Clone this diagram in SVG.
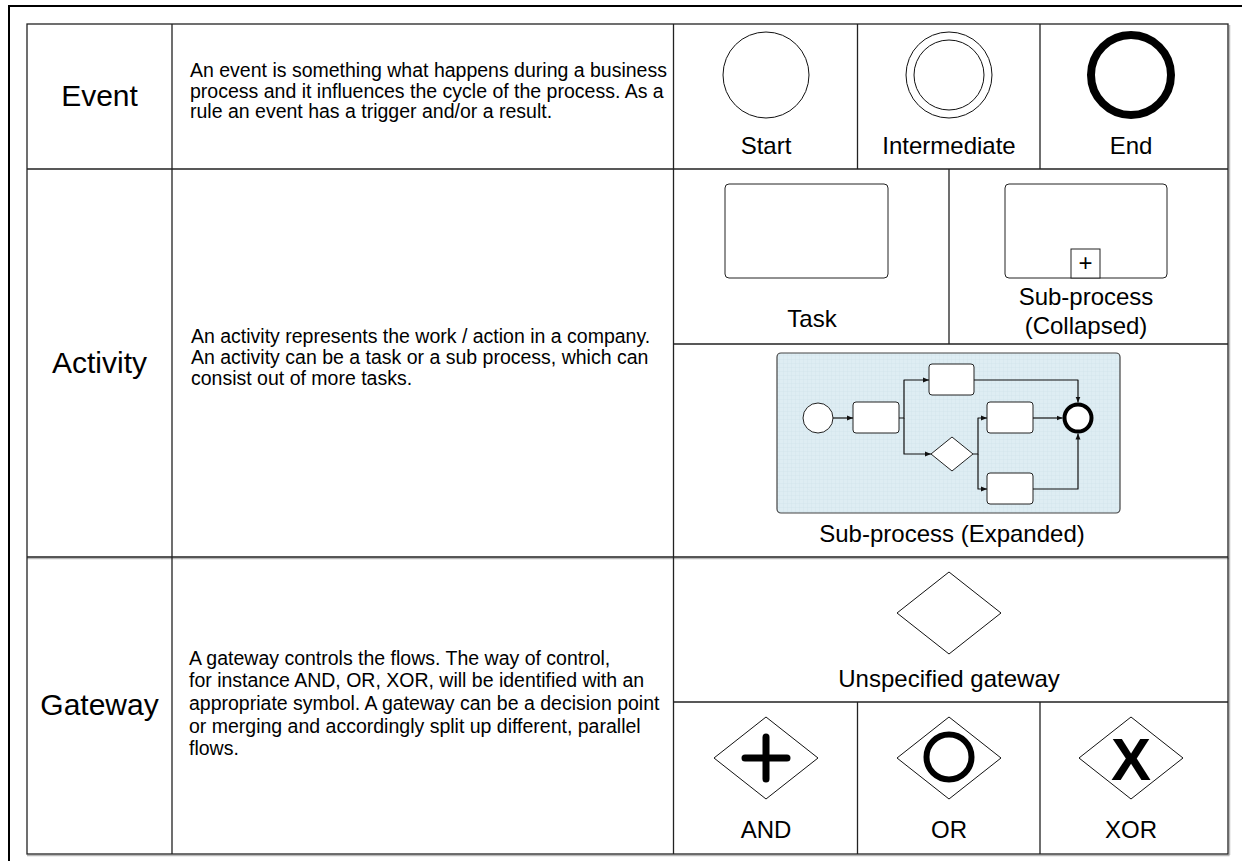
<svg xmlns="http://www.w3.org/2000/svg" width="1242" height="861" viewBox="0 0 1242 861">
<style>
 text{font-family:"Liberation Sans",Arial,sans-serif;fill:#000}
 .hd{font-size:30px;text-anchor:middle}
 .ds{font-size:19.5px}
 .lb{font-size:24px;text-anchor:middle}
 .ln{stroke:#222;stroke-width:1.3;fill:none}
 .sh{stroke:#b8b8b8;stroke-width:1.5;fill:none}
 .thin{fill:#fff;stroke:#111;stroke-width:1}
 .mini{fill:#fff;stroke:#222;stroke-width:1}
 .fl{fill:none;stroke:#111;stroke-width:1.2;stroke-linejoin:round}
</style>
<defs>
 <pattern id="grid" width="4" height="4" patternUnits="userSpaceOnUse">
  <rect width="4" height="4" fill="#deedf3"/>
  <path d="M4 0V4M0 4H4" stroke="#cde0e8" stroke-width="0.6"/>
 </pattern>
 <marker id="ar" markerWidth="6" markerHeight="6" refX="6" refY="3" orient="auto" markerUnits="userSpaceOnUse">
  <path d="M0,0.5 L6,3 L0,5.5z" fill="#111"/>
 </marker>
</defs>
<rect width="1242" height="861" fill="#fff"/>
<rect x="9" y="6" width="1300" height="900" fill="none" stroke="#000" stroke-width="2"/>

<g id="table">
 <path class="sh" d="M27,558.5H1229.5M1229.5,25V855M27,855.5H1229.5"/>
 <rect class="ln" x="27" y="24" width="1201" height="830" stroke-width="1.6"/>
 <path class="ln" d="M172,24V854M673.5,24V854M27,169H1228M27,557H1228"/>
 <path class="ln" d="M857.5,24V169M1040,24V169"/>
 <path class="ln" d="M673.5,344H1228M949,169V344"/>
 <path class="ln" d="M673.5,702H1228M857.5,702V854M1040,702V854"/>
</g>

<g id="event">
 <text class="hd" x="99.5" y="106">Event</text>
 <text class="ds" x="190" y="77">An event is something what happens during a business</text>
 <text class="ds" x="190" y="97.5">process and it influences the cycle of the process. As a</text>
 <text class="ds" x="190" y="118">rule an event has a trigger and/or a result.</text>
 <g id="ev-start"><circle class="thin" cx="766" cy="75" r="43"/><text class="lb" x="766" y="154">Start</text></g>
 <g id="ev-intermediate"><circle class="thin" cx="949" cy="75" r="43"/><circle class="thin" cx="949" cy="75" r="35"/><text class="lb" x="949" y="154">Intermediate</text></g>
 <g id="ev-end"><circle cx="1131" cy="75" r="40" fill="#fff" stroke="#000" stroke-width="8"/><text class="lb" x="1131" y="154">End</text></g>
</g>

<g id="activity">
 <text class="hd" x="99.5" y="373">Activity</text>
 <text class="ds" x="191" y="343" font-size="20">An activity represents the work / action in a company.</text>
 <text class="ds" x="191" y="364" font-size="20">An activity can be a task or a sub process, which can</text>
 <text class="ds" x="191" y="385" font-size="20">consist out of more tasks.</text>
 <g id="act-task"><rect class="mini" x="725" y="184" width="163" height="94" rx="4"/><text class="lb" x="812" y="327">Task</text></g>
 <g id="act-collapsed">
  <rect class="mini" x="1005" y="184" width="162" height="94" rx="4"/>
  <rect class="mini" x="1071" y="249" width="29" height="29"/>
  <text class="lb" x="1085.5" y="271">+</text>
  <text class="lb" x="1086" y="305">Sub-process</text>
  <text class="lb" x="1086" y="334">(Collapsed)</text>
 </g>
 <g id="act-expanded">
  <rect x="777" y="353" width="343" height="160" rx="4" fill="url(#grid)" stroke="#444" stroke-width="1.2"/>
  <g id="mini-start"><circle class="mini" cx="818" cy="418" r="15"/></g>
  <g id="mini-task1"><rect class="mini" x="853" y="402" width="46" height="31" rx="3"/></g>
  <g id="mini-task2"><rect class="mini" x="929" y="364" width="45" height="31" rx="3"/></g>
  <g id="mini-task3"><rect class="mini" x="987" y="402" width="46" height="31" rx="3"/></g>
  <g id="mini-task4"><rect class="mini" x="987" y="473" width="46" height="31" rx="3"/></g>
  <g id="mini-gateway"><polygon class="mini" points="952,437 973,454 952,471 931,454"/></g>
  <g id="mini-end"><circle cx="1078" cy="418" r="13.5" fill="#fff" stroke="#000" stroke-width="4"/></g>
  <g id="connectors">
   <path class="fl" marker-end="url(#ar)" d="M833,418H853"/>
   <path class="fl" marker-end="url(#ar)" d="M899,418H904V380H929"/>
   <path class="fl" marker-end="url(#ar)" d="M904,418V454H931"/>
   <path class="fl" marker-end="url(#ar)" d="M974,380H1078V402.5"/>
   <path class="fl" marker-end="url(#ar)" d="M973,454H978V418H987"/>
   <path class="fl" marker-end="url(#ar)" d="M978,454V489H987"/>
   <path class="fl" marker-end="url(#ar)" d="M1033,418H1062.5"/>
   <path class="fl" marker-end="url(#ar)" d="M1033,489H1078V433.5"/>
  </g>
  <text class="lb" x="952" y="542">Sub-process (Expanded)</text>
 </g>
</g>

<g id="gateway">
 <text class="hd" x="99.5" y="715">Gateway</text>
 <text class="ds" x="189" y="665" font-size="19.2">A gateway controls the flows. The way of control,</text>
 <text class="ds" x="189" y="687" font-size="19.2">for instance AND, OR, XOR, will be identified with an</text>
 <text class="ds" x="189" y="710" font-size="19.2">appropriate symbol. A gateway can be a decision point</text>
 <text class="ds" x="189" y="733" font-size="19.2">or merging and accordingly split up different, parallel</text>
 <text class="ds" x="189" y="755" font-size="19.2">flows.</text>
 <g id="gw-unspecified"><polygon class="thin" points="949,572 1001,613 949,654 897,613"/><text class="lb" x="949" y="687">Unspecified gateway</text></g>
 <g id="gw-and">
  <polygon class="thin" points="766,717 818,758 766,799 714,758"/>
  <path d="M766,737V779M745,758H787" stroke="#000" stroke-width="7" stroke-linecap="round"/>
  <text class="lb" x="766" y="838">AND</text>
 </g>
 <g id="gw-or">
  <polygon class="thin" points="949,717 1001,758 949,799 897,758"/>
  <circle cx="949" cy="757" r="22.5" fill="none" stroke="#000" stroke-width="6"/>
  <text class="lb" x="949" y="838">OR</text>
 </g>
 <g id="gw-xor">
  <polygon class="thin" points="1131,717 1183,758 1131,799 1079,758"/>
  <text x="1131" y="780" font-size="60" font-weight="bold" text-anchor="middle">X</text>
  <text class="lb" x="1131" y="838">XOR</text>
 </g>
</g>
</svg>
